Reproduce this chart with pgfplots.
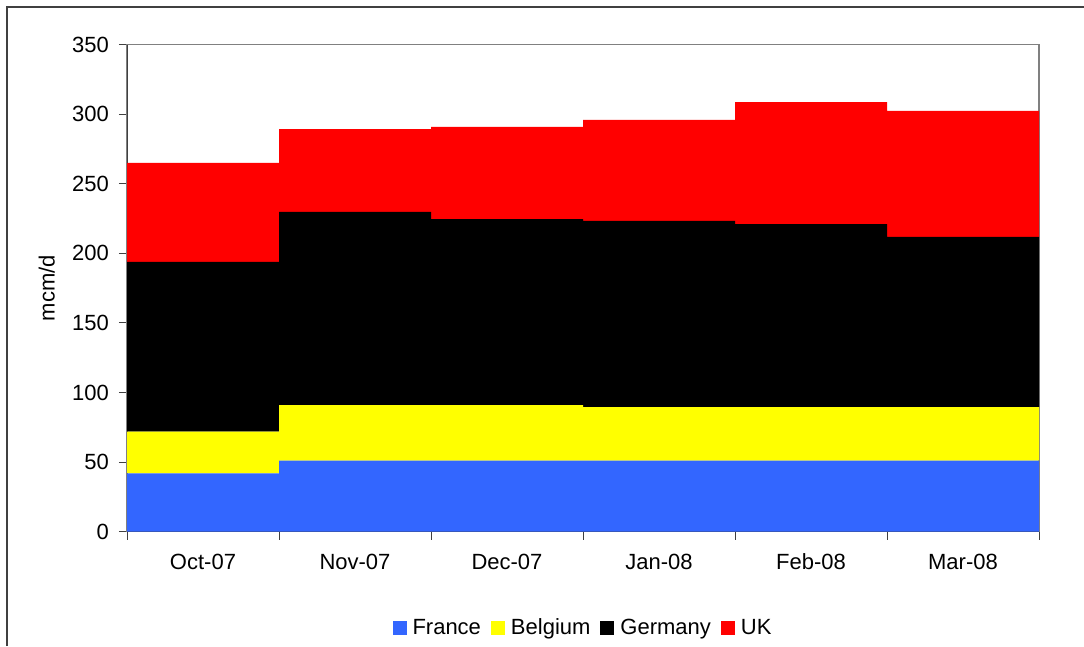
\documentclass[border=0pt]{standalone}
\usepackage{pgfplots}
\pgfplotsset{compat=1.18}
\usepackage{fontspec}
\setmainfont{Liberation Sans}
\definecolor{frcol}{HTML}{3366FF}
\definecolor{becol}{HTML}{FFFF00}
\definecolor{gecol}{HTML}{000000}
\definecolor{ukcol}{HTML}{FF0000}
\definecolor{axgray}{HTML}{808080}
\definecolor{axdark}{HTML}{404040}
\begin{document}
\fontsize{22}{26}\selectfont
\begin{tikzpicture}
\useasboundingbox (0,0) rectangle (1084pt,646pt);
\draw[axdark, line width=2pt] (7pt,0) -- (7pt,639pt) -- (1084pt,639pt);
\begin{axis}[
  at={(127pt,114.3pt)}, anchor=south west,
  scale only axis, width=912pt, height=487pt,
  ybar stacked, bar width=152pt,
  xmin=-0.5, xmax=5.5, ymin=0, ymax=350,
  xtick={0,1,2,3,4,5},
  xticklabels={Oct-07,Nov-07,Dec-07,Jan-08,Feb-08,Mar-08},
  minor xtick={-0.5,0.5,1.5,2.5,3.5,4.5,5.5},
  major x tick style={draw=none},
  minor x tick style={axdark, line width=1pt},
  minor tick length=8pt,
  ytick={0,50,...,350},
  y tick style={axdark, line width=1pt},
  major tick length=8pt,
  tick align=outside, xtick pos=bottom, ytick pos=left,
  /pgf/number format/assume math mode=true,
  tick label style={font=\fontsize{22}{26}\selectfont},
  yticklabel style={inner sep=0pt, xshift=-10pt},
  xticklabel style={inner sep=0pt, yshift=-14pt, text height=16pt, text depth=4pt},
  axis line style={axgray, line width=1.5pt},
  ylabel={mcm/d},
  every axis y label/.style={at={(axis description cs:-0.088,0.5)}, rotate=90, anchor=center, font=\fontsize{22}{26}\selectfont},
  legend columns=4,
  legend style={at={(0.5,-0.198)}, anchor=center, draw=none, fill=none,
    font=\fontsize{22}{26}\selectfont,
    /tikz/every odd column/.append style={column sep=0pt},
    /tikz/every even column/.append style={column sep=8pt}},
  legend image code/.code={\fill[#1] (0pt,-7pt) rectangle (14pt,7pt); \path (18pt,0pt);},
]
\addplot[fill=frcol, draw=none] coordinates {(0,42) (1,51) (2,51) (3,51) (4,51) (5,51)};
\addplot[fill=becol, draw=none] coordinates {(0,30) (1,40) (2,40) (3,38.6) (4,38.6) (5,38.6)};
\addplot[fill=gecol, draw=none] coordinates {(0,122) (1,138.8) (2,133.7) (3,133.7) (4,131.5) (5,122.2)};
\addplot[fill=ukcol, draw=none] coordinates {(0,71) (1,59.6) (2,66.2) (3,72.6) (4,87.7) (5,90.6)};
\legend{France,Belgium,Germany,UK}
\draw[axdark, line width=1.5pt] (axis cs:-0.5,350) -- (axis cs:-0.5,0) -- (axis cs:5.5,0);
\end{axis}
\end{tikzpicture}
\end{document}
